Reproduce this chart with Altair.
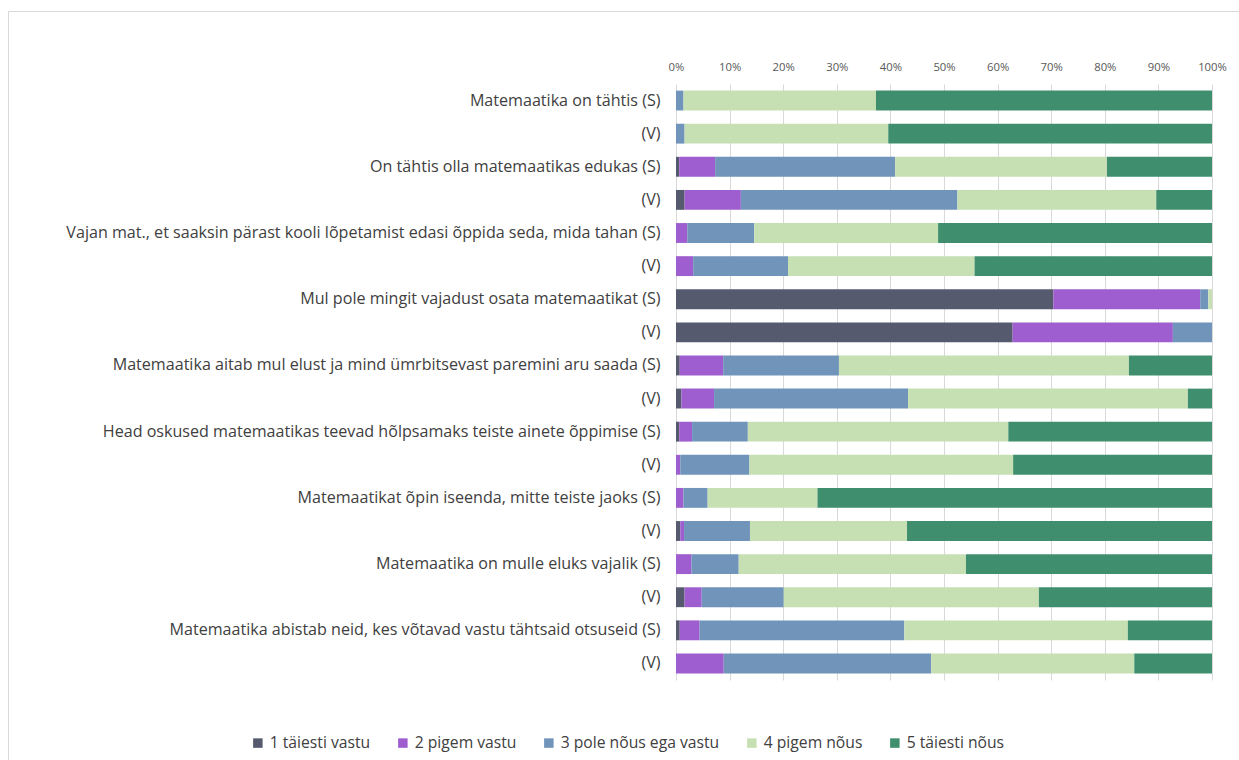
import json
import altair as alt
import pandas as pd

labels = [
    "Matemaatika on tähtis (S)", "(V)",
    "On tähtis olla matemaatikas edukas (S)", "(V)",
    "Vajan mat., et saaksin pärast kooli lõpetamist edasi õppida seda, mida tahan (S)", "(V)",
    "Mul pole mingit vajadust osata matemaatikat (S)", "(V)",
    "Matemaatika aitab mul elust ja mind ümrbitsevast paremini aru saada (S)", "(V)",
    "Head oskused matemaatikas teevad hõlpsamaks teiste ainete õppimise (S)", "(V)",
    "Matemaatikat õpin iseenda, mitte teiste jaoks (S)", "(V)",
    "Matemaatika on mulle eluks vajalik (S)", "(V)",
    "Matemaatika abistab neid, kes võtavad vastu tähtsaid otsuseid (S)", "(V)",
]

categories = ["1 täiesti vastu", "2 pigem vastu", "3 pole nõus ega vastu", "4 pigem nõus", "5 täiesti nõus"]
colors = ["#565a6e", "#9e5ecf", "#7094ba", "#c6e0b4", "#3f8f6f"]

v1 = [0, 0, 0.6, 1.6, 0, 0, 70.4, 62.8, 0.7, 1.0, 0.6, 0, 0, 0.8, 0, 1.6, 0.7, 0]
v2 = [0, 0, 6.7, 10.5, 2.1, 3.2, 27.4, 29.9, 8.1, 6.1, 2.4, 0.8, 1.4, 0.7, 2.9, 3.2, 3.7, 8.9]
v3 = [1.4, 1.6, 33.6, 40.4, 12.5, 17.7, 1.5, 7.3, 21.6, 36.2, 10.4, 12.9, 4.5, 12.3, 8.8, 15.3, 38.2, 38.7]
v4 = [35.9, 38.0, 39.5, 37.1, 34.3, 34.8, 0.7, 0, 54.1, 52.2, 48.6, 49.2, 20.5, 29.3, 42.4, 47.6, 41.7, 37.9]
v5 = [62.7, 60.4, 19.6, 10.4, 51.1, 44.3, 0, 0, 15.5, 4.5, 38.0, 37.1, 73.6, 56.9, 45.9, 32.3, 15.7, 14.5]

series = [v1, v2, v3, v4, v5]
rows = []
for ci, (cat, vals) in enumerate(zip(categories, series)):
    for ri, v in enumerate(vals):
        rows.append({"row": ri, "cat": cat, "order": ci, "value": v})
df = pd.DataFrame(rows)

label_expr = json.dumps(labels, ensure_ascii=False) + "[datum.value]"
FONT = "Open Sans"

bars = alt.Chart(df).mark_bar().encode(
    y=alt.Y("row:O", sort=list(range(len(labels))),
            scale=alt.Scale(paddingInner=0.4, paddingOuter=0.2),
            axis=alt.Axis(title=None, labelExpr=label_expr, labelFontSize=16.1,
                          labelColor="#404040", labelFont=FONT,
                          labelPadding=16, ticks=False, domain=False, labelLimit=700)),
    x=alt.X("value:Q", stack="normalize",
            scale=alt.Scale(domain=[0, 1]),
            axis=alt.Axis(title=None, orient="top", format=".0%",
                          values=[i / 10 for i in range(11)],
                          labelFontSize=11.3, labelColor="#595959", labelFont=FONT,
                          labelFlush=False,
                          ticks=False, domain=False, labelPadding=12,
                          grid=True, gridColor="#d9d9d9", gridWidth=1)),
    color=alt.Color("cat:N", sort=categories,
                    scale=alt.Scale(domain=categories, range=colors),
                    legend=alt.Legend(title=None, orient="none", direction="horizontal",
                                      legendX=-426, legendY=651,
                                      symbolType="square", symbolSize=90,
                                      symbolStrokeWidth=0,
                                      labelFontSize=15.7, labelColor="#404040",
                                      labelFont=FONT,
                                      columnPadding=24, labelOffset=4)),
    order=alt.Order("order:Q", sort="ascending"),
)

border = alt.Chart(alt.Data(values=[{}])).mark_rect(
    fill=None, stroke="#d9d9d9", strokeWidth=1, clip=False
).encode(
    x=alt.value(-667.5), x2=alt.value(600),
    y=alt.value(-72.5), y2=alt.value(700),
)

chart = alt.layer(border, bars).properties(
    width=536, height=596,
    autosize=alt.AutoSizeParams(type="none"),
    padding={"left": 676, "top": 84, "right": 27, "bottom": 80},
).configure_view(stroke=None)

chart.save("out.html", embed_options={"renderer": "svg", "actions": False})
